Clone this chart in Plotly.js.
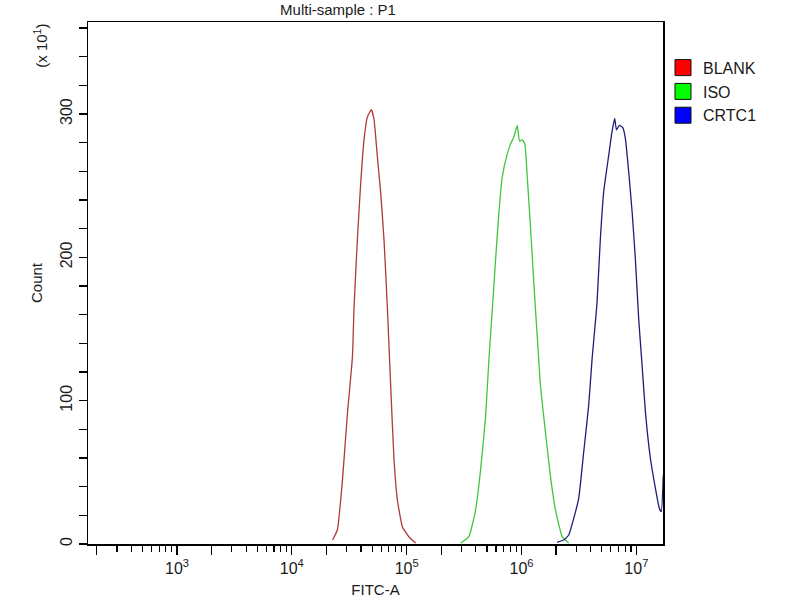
<!DOCTYPE html>
<html>
<head>
<meta charset="utf-8">
<script src="https://cdn.plot.ly/plotly-3.0.1.min.js"></script>
<style>
  html, body { margin: 0; padding: 0; background: #fff; }
  #graph { width: 800px; height: 600px; }
</style>
</head>
<body>
<div id="graph"></div>
<script>
// FITC-A values and counts (x10)
let blankX = [22600, 24900, 27600, 30500, 33700, 34800, 37300, 39800, 42500, 45500, 49300,
              52000, 55600, 59400, 63500, 67900, 72600, 77600, 83000, 91800, 104800, 119700];
let blankY = [2.8, 9.8, 44.7, 91.4, 130.5, 165, 214, 252, 282, 298, 303,
              296, 270, 245, 212, 165, 110, 58.6, 30.7, 11.9, 4.9, 0.7];

let isoX = [295000, 348000, 398000, 440000, 486000, 520000, 556000, 594000, 635000, 679000,
            751000, 802000, 858000, 918000, 962000, 1015000, 1069000, 1122000, 1198000,
            1280000, 1370000, 1463000, 1618000, 1787000, 1976000, 2259000, 2578000];
let isoY = [0.5, 5.1, 23.7, 51.6, 88.5, 128.4, 163, 198, 231, 256,
            272, 279, 284, 292, 281, 282, 279, 256, 221,
            182, 145, 110, 77.6, 47.2, 23.7, 5.1, 0.7];

let crtcX = [2042000, 2333000, 2578000, 2851000, 3150000, 3481000, 3847000, 4120000, 4400000,
             4550000, 4860000, 5200000, 5740000, 6150000, 6480000, 6700000, 7110000, 7600000,
             8020000, 8570000, 9180000, 9800000, 10480000, 11210000, 11980000, 13240000,
             14640000, 15840000, 16490000, 17170000];
let crtcY = [1.2, 2.8, 6.3, 18, 32, 64.4, 97, 129.5, 155,
             169, 213, 246, 271, 288, 297, 289, 292, 290.6,
             283, 260, 232, 199, 157, 125, 92.5, 60,
             39, 25, 22.6, 48];

let seriesNames = ['BLANK', 'ISO', 'CRTC1'];
let lineColors = ['#b03838', '#3cc83c', '#1e1e7a'];
let legendColors = ['#ff0000', '#00ff00', '#0000ff'];

let majorTicks = [200, 1000, 2000, 10000, 20000, 100000, 200000, 1000000, 2000000, 10000000];
let majorText = ['', '10<sup>3</sup>', '', '10<sup>4</sup>', '', '10<sup>5</sup>', '',
                 '10<sup>6</sup>', '', '10<sup>7</sup>'];

let minorTicks = [];
[100, 1000, 10000, 100000, 1000000].forEach(function (d) {
    for (let k = 3; k <= 9; k++) minorTicks.push(k * d);
});

let xs = [blankX, isoX, crtcX];
let ys = [blankY, isoY, crtcY];

let data = [];
for (let i = 0; i < 3; i++) {
    data.push({
        x: xs[i],
        y: ys[i],
        type: 'scatter',
        mode: 'lines',
        line: { color: lineColors[i], width: 1.3, shape: 'spline', smoothing: 0.4 },
        showlegend: false,
        hoverinfo: 'skip'
    });
}
// legend swatches
for (let i = 0; i < 3; i++) {
    data.push({
        x: [null],
        y: [null],
        type: 'scatter',
        mode: 'markers',
        name: seriesNames[i],
        marker: { symbol: 'square', size: 16, color: legendColors[i],
                  line: { color: '#111', width: 1 } }
    });
}

let font = { family: 'Liberation Sans, Arial, sans-serif', size: 15, color: '#1a1a1a' };

let layout = {
    width: 800,
    height: 600,
    margin: { l: 88, r: 137, t: 22, b: 56 },
    paper_bgcolor: '#fff',
    plot_bgcolor: '#fff',
    font: font,
    title: {
        text: 'Multi-sample : P1',
        font: { size: 15, color: '#1a1a1a' },
        x: 0.4225, xanchor: 'center',
        y: 0.984, yanchor: 'middle'
    },
    xaxis: {
        type: 'log',
        range: [2.225, 7.232],
        showgrid: false,
        zeroline: false,
        showline: true,
        linecolor: '#000',
        linewidth: 1.5,
        mirror: true,
        ticks: 'outside',
        ticklen: 9,
        tickwidth: 1.2,
        tickcolor: '#000',
        tickmode: 'array',
        tickvals: majorTicks,
        ticktext: majorText,
        tickfont: { size: 16 },
        minor: { tickvals: minorTicks, ticks: 'outside', ticklen: 6, tickwidth: 1.2,
                 tickcolor: '#000', showgrid: false },
        title: { text: 'FITC-A', font: { size: 15 }, standoff: 9 }
    },
    yaxis: {
        range: [0, 364.2],
        showgrid: false,
        zeroline: false,
        showline: true,
        linecolor: '#000',
        linewidth: 1.5,
        mirror: true,
        ticks: 'outside',
        ticklen: 8,
        tickwidth: 1.2,
        tickcolor: '#000',
        tickmode: 'array',
        tickvals: [0, 100, 200, 300],
        tickangle: -90,
        tickfont: { size: 16 },
        minor: { dtick: 20, ticks: 'outside', ticklen: 8, tickwidth: 1.2,
                 tickcolor: '#000', showgrid: false },
        title: { text: 'Count', font: { size: 15 }, standoff: 12 }
    },
    legend: {
        x: 1.0, xanchor: 'left',
        y: 0.945, yanchor: 'top',
        font: { size: 16, color: '#1a1a1a' },
        tracegroupgap: 0,
        bgcolor: 'rgba(0,0,0,0)'
    },
    annotations: [{
        text: '(x 10<sup>1</sup>)',
        xref: 'paper', yref: 'paper',
        x: -0.083, y: 0.955,
        xanchor: 'center', yanchor: 'middle',
        textangle: -90,
        showarrow: false,
        font: { size: 15, color: '#1a1a1a' }
    }]
};

Plotly.newPlot('graph', data, layout, { displayModeBar: false, staticPlot: true });
</script>
</body>
</html>
